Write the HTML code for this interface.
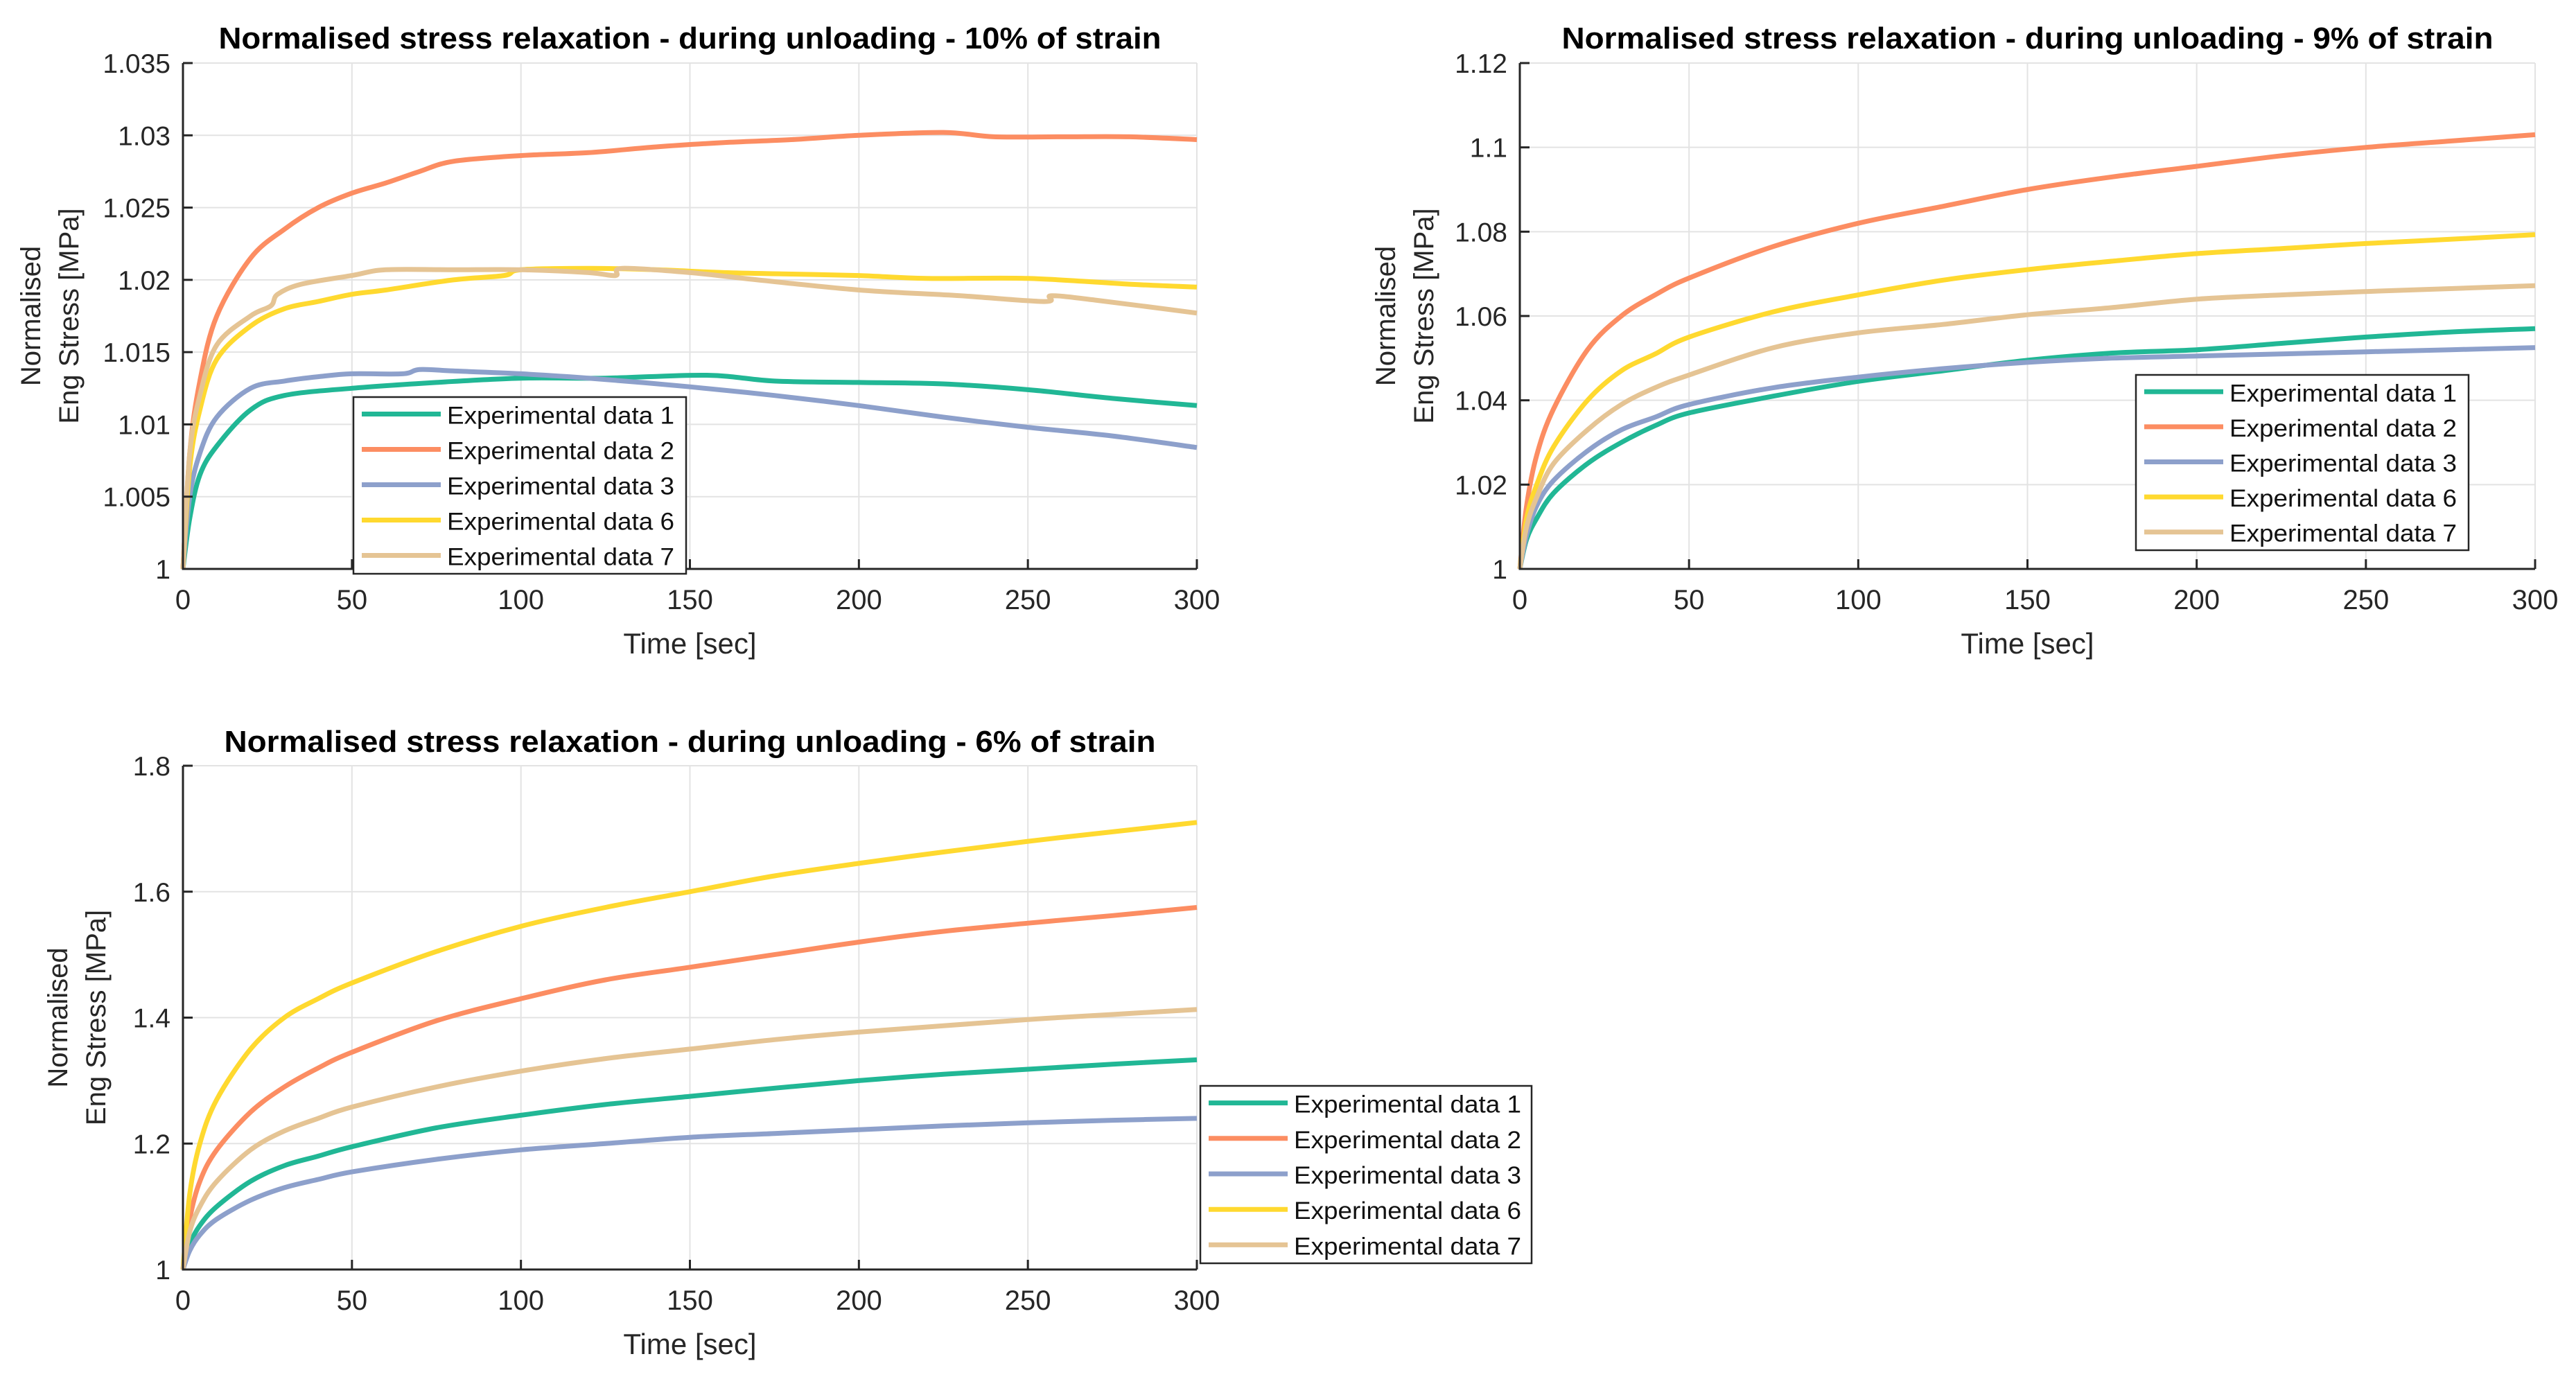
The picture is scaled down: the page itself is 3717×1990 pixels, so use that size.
<!DOCTYPE html>
<html><head><meta charset="utf-8">
<style>
html,body{margin:0;padding:0;background:#fff;}
svg{display:block;}
text{font-family:"Liberation Sans",Arial,sans-serif;fill:#262626;}
</style></head>
<body>
<svg id="fig" width="3717" height="1990" viewBox="0 0 3717 1990" xmlns="http://www.w3.org/2000/svg"></svg>
<script>
const xTicks = [0, 50, 100, 150, 200, 250, 300];
const seriesNames = ["Experimental data 1", "Experimental data 2", "Experimental data 3", "Experimental data 6", "Experimental data 7"];
const seriesColors = ["#21b795", "#fc8d62", "#8da0cb", "#ffd92f", "#e5c494"];

// Chart 1 (10% strain)
const c1Ticks = [1, 1.005, 1.01, 1.015, 1.02, 1.025, 1.03, 1.035];
const c1TickLabels = ["1", "1.005", "1.01", "1.015", "1.02", "1.025", "1.03", "1.035"];
const c1s1t = [0,2,5,10,20,30,50,75,100,125,155,175,200,225,250,275,300];
const c1s1v = [1,1.0035,1.0065,1.0085,1.011,1.012,1.0125,1.0129,1.0132,1.0132,1.0134,1.013,1.0129,1.0128,1.0124,1.0118,1.0113];
const c1s2t = [0,2,5,10,20,30,40,50,60,70,80,100,120,140,160,180,200,225,240,260,280,300];
const c1s2v = [1,1.008,1.013,1.0175,1.0215,1.0235,1.025,1.026,1.0267,1.0275,1.0282,1.0286,1.0288,1.0292,1.0295,1.0297,1.03,1.0302,1.0299,1.0299,1.0299,1.0297];
const c1s3t = [0,2,5,10,20,30,40,50,65,70,80,100,120,150,175,200,225,250,275,300];
const c1s3v = [1,1.005,1.008,1.0105,1.0125,1.013,1.0133,1.0135,1.0135,1.0138,1.0137,1.0135,1.0132,1.0126,1.012,1.0113,1.0105,1.0098,1.0092,1.0084];
const c1s6t = [0,2,5,10,20,30,40,50,60,80,95,100,120,140,160,180,200,220,250,280,300];
const c1s6v = [1,1.007,1.011,1.0145,1.0168,1.018,1.0185,1.019,1.0193,1.02,1.0203,1.0207,1.0208,1.0207,1.0205,1.0204,1.0203,1.0201,1.0201,1.0197,1.0195];
const c1s7t = [0,2,5,10,20,26,28,35,50,60,80,100,120,128,130,150,170,200,230,255,257,270,300];
const c1s7v = [1,1.008,1.012,1.0155,1.0175,1.0182,1.019,1.0197,1.0203,1.0207,1.0207,1.0207,1.0205,1.0203,1.0208,1.0205,1.02,1.0193,1.0189,1.0185,1.0189,1.0186,1.0177];

// Chart 2 (9% strain)
const c2Ticks = [1, 1.02, 1.04, 1.06, 1.08, 1.1, 1.12];
const c2TickLabels = ["1", "1.02", "1.04", "1.06", "1.08", "1.1", "1.12"];
const c2t = [0,2,5,10,20,30,40,50,75,100,125,150,175,200,225,250,275,300];
const c2s1v = [1,1.007,1.012,1.018,1.025,1.03,1.034,1.037,1.041,1.0445,1.047,1.0495,1.0512,1.052,1.0535,1.055,1.0562,1.057];
const c2s2v = [1,1.015,1.027,1.038,1.052,1.06,1.065,1.069,1.0765,1.082,1.086,1.09,1.093,1.0955,1.098,1.1,1.1015,1.103];
const c2s3v = [1,1.008,1.015,1.021,1.028,1.033,1.036,1.039,1.043,1.0455,1.0475,1.049,1.05,1.0505,1.051,1.0515,1.052,1.0525];
const c2s6v = [1,1.012,1.02,1.029,1.04,1.047,1.051,1.055,1.061,1.065,1.0685,1.071,1.073,1.0748,1.076,1.0772,1.0782,1.0793];
const c2s7v = [1,1.01,1.017,1.025,1.033,1.039,1.043,1.046,1.0525,1.056,1.058,1.0603,1.062,1.064,1.065,1.0658,1.0665,1.0672];

// Chart 3 (6% strain)
const c3Ticks = [1, 1.2, 1.4, 1.6, 1.8];
const c3TickLabels = ["1", "1.2", "1.4", "1.6", "1.8"];
const c3t = [0,2,5,10,20,30,40,50,75,100,125,150,175,200,225,250,275,300];
const c3s1v = [1,1.04,1.07,1.1,1.14,1.165,1.18,1.195,1.225,1.245,1.262,1.275,1.288,1.3,1.31,1.318,1.326,1.333];
const c3s2v = [1,1.08,1.14,1.19,1.25,1.29,1.32,1.345,1.395,1.43,1.46,1.48,1.5,1.52,1.537,1.55,1.562,1.575];
const c3s3v = [1,1.03,1.055,1.08,1.11,1.13,1.143,1.155,1.175,1.19,1.2,1.21,1.216,1.222,1.228,1.233,1.237,1.24];
const c3s6v = [1,1.12,1.2,1.27,1.35,1.4,1.43,1.455,1.505,1.545,1.575,1.6,1.625,1.645,1.663,1.68,1.695,1.71];
const c3s7v = [1,1.06,1.1,1.14,1.19,1.22,1.24,1.258,1.29,1.315,1.335,1.35,1.365,1.377,1.387,1.397,1.405,1.413];

const NS = "http://www.w3.org/2000/svg";
const fig = document.getElementById("fig");
function mk(tag, attrs, parent) {
  const e = document.createElementNS(NS, tag);
  for (const k in attrs) e.setAttribute(k, attrs[k]);
  (parent || fig).appendChild(e);
  return e;
}
function smoothPath(pts) {
  let d = "M" + pts[0][0].toFixed(1) + "," + pts[0][1].toFixed(1);
  for (let i = 0; i < pts.length - 1; i++) {
    const p0 = pts[Math.max(0, i - 1)], p1 = pts[i], p2 = pts[i + 1], p3 = pts[Math.min(pts.length - 1, i + 2)];
    const c1x = p1[0] + (p2[0] - p0[0]) / 6, c1y = p1[1] + (p2[1] - p0[1]) / 6;
    const c2x = p2[0] - (p3[0] - p1[0]) / 6, c2y = p2[1] - (p3[1] - p1[1]) / 6;
    d += " C" + c1x.toFixed(1) + "," + c1y.toFixed(1) + " " + c2x.toFixed(1) + "," + c2y.toFixed(1) + " " + p2[0].toFixed(1) + "," + p2[1].toFixed(1);
  }
  return d;
}

function drawChart(cfg) {
  const g = mk("g", {});
  
  
  const L = cfg.l, R = cfg.r, T = cfg.t, B = cfg.b;
  const ymin = cfg.yTicks[0], ymax = cfg.yTicks[cfg.yTicks.length - 1];
  const xs = v => L + (v - 0) / 300 * (R - L);
  const ys = v => B - (v - ymin) / (ymax - ymin) * (B - T);
  xTicks.forEach(v => {
    const ln = mk("line", {x1: xs(v), x2: xs(v), y1: T, y2: B, stroke: "#e3e3e3", "stroke-width": 2}, g);
    
    
  });
  cfg.yTicks.forEach(v => {
    const ln = mk("line", {x1: L, x2: R, y1: ys(v), y2: ys(v), stroke: "#e3e3e3", "stroke-width": 2}, g);
    
    
  });
  cfg.series.forEach((s, i) => {
    const pts = s.t.map((t, j) => [xs(t), ys(s.v[j])]);
    const p = mk("path", {d: smoothPath(pts), fill: "none", stroke: seriesColors[i], "stroke-width": 7, "stroke-linejoin": "round"}, g);
    
    
  });
  const ax = mk("path", {d: "M" + L + "," + T + " L" + L + "," + B + " L" + R + "," + B, fill: "none", stroke: "#262626", "stroke-width": 3}, g);
  
  
  xTicks.forEach(v => {
    mk("line", {x1: xs(v), x2: xs(v), y1: B, y2: B - 14, stroke: "#262626", "stroke-width": 3}, g);
    const tx = mk("text", {x: xs(v), y: B + 58, "text-anchor": "middle", "font-size": 40}, g);
    tx.textContent = String(v);
    
    
  });
  cfg.yTicks.forEach((v, i) => {
    mk("line", {x1: L, x2: L + 14, y1: ys(v), y2: ys(v), stroke: "#262626", "stroke-width": 3}, g);
    const tx = mk("text", {x: L - 18, y: ys(v) + 14, "text-anchor": "end", "font-size": 39}, g);
    tx.textContent = cfg.yLabels[i];
    
    
  });
  const ti = mk("text", {x: (L + R) / 2, y: cfg.titleY, "text-anchor": "middle", "font-size": 44, "font-weight": "bold", textLength: cfg.titleW, lengthAdjust: "spacingAndGlyphs", style: "fill:#000"}, g);
  ti.textContent = cfg.title;
  
  
  const xl = mk("text", {x: (L + R) / 2, y: B + 122, "text-anchor": "middle", "font-size": 42}, g);
  xl.textContent = "Time [sec]";
  
  
  const cy = (T + B) / 2;
  const yl1 = mk("text", {x: 0, y: 0, "text-anchor": "middle", "font-size": 40, transform: "translate(" + cfg.ylx1 + "," + cy + ") rotate(-90)"}, g);
  yl1.textContent = "Normalised";
  
  
  const yl2 = mk("text", {x: 0, y: 0, "text-anchor": "middle", "font-size": 40, transform: "translate(" + cfg.ylx2 + "," + cy + ") rotate(-90)"}, g);
  yl2.textContent = "Eng Stress [MPa]";
  
  
  const lg = mk("g", {}, g);
  
  
  const [lx, ly, lw, lh] = cfg.legend;
  mk("rect", {x: lx, y: ly, width: lw, height: lh, fill: "#fff", stroke: "#262626", "stroke-width": 2.5}, lg);
  const rowH = lh / 5;
  seriesNames.forEach((n, i) => {
    const yy = ly + rowH * (i + 0.5) + 2;
    const ln = mk("line", {x1: lx + 12, x2: lx + 126, y1: yy - 3, y2: yy - 3, stroke: seriesColors[i], "stroke-width": 7}, lg);
    
    
    const tx = mk("text", {x: lx + 135, y: yy + 11, "font-size": 35, textLength: 328, lengthAdjust: "spacingAndGlyphs", style: "fill:#111"}, lg);
    tx.textContent = n;
    
    
  });
}

drawChart({name: "chart-10-percent", l: 264, r: 1727, t: 91, b: 821, yTicks: c1Ticks, yLabels: c1TickLabels,
  title: "Normalised stress relaxation - during unloading - 10% of strain", titleY: 70, titleW: 1360,
  ylx1: 58, ylx2: 113, legend: [510, 573, 480, 255],
  series: [{t: c1s1t, v: c1s1v}, {t: c1s2t, v: c1s2v}, {t: c1s3t, v: c1s3v}, {t: c1s6t, v: c1s6v}, {t: c1s7t, v: c1s7v}]});
drawChart({name: "chart-9-percent", l: 2193, r: 3658, t: 91, b: 821, yTicks: c2Ticks, yLabels: c2TickLabels,
  title: "Normalised stress relaxation - during unloading - 9% of strain", titleY: 70, titleW: 1344,
  ylx1: 2013, ylx2: 2068, legend: [3082, 541, 480, 253],
  series: [{t: c2t, v: c2s1v}, {t: c2t, v: c2s2v}, {t: c2t, v: c2s3v}, {t: c2t, v: c2s6v}, {t: c2t, v: c2s7v}]});
drawChart({name: "chart-6-percent", l: 264, r: 1727, t: 1105, b: 1832, yTicks: c3Ticks, yLabels: c3TickLabels,
  title: "Normalised stress relaxation - during unloading - 6% of strain", titleY: 1085, titleW: 1344,
  ylx1: 97, ylx2: 152, legend: [1732, 1567, 478, 256],
  series: [{t: c3t, v: c3s1v}, {t: c3t, v: c3s2v}, {t: c3t, v: c3s3v}, {t: c3t, v: c3s6v}, {t: c3t, v: c3s7v}]});
</script>
</body></html>
